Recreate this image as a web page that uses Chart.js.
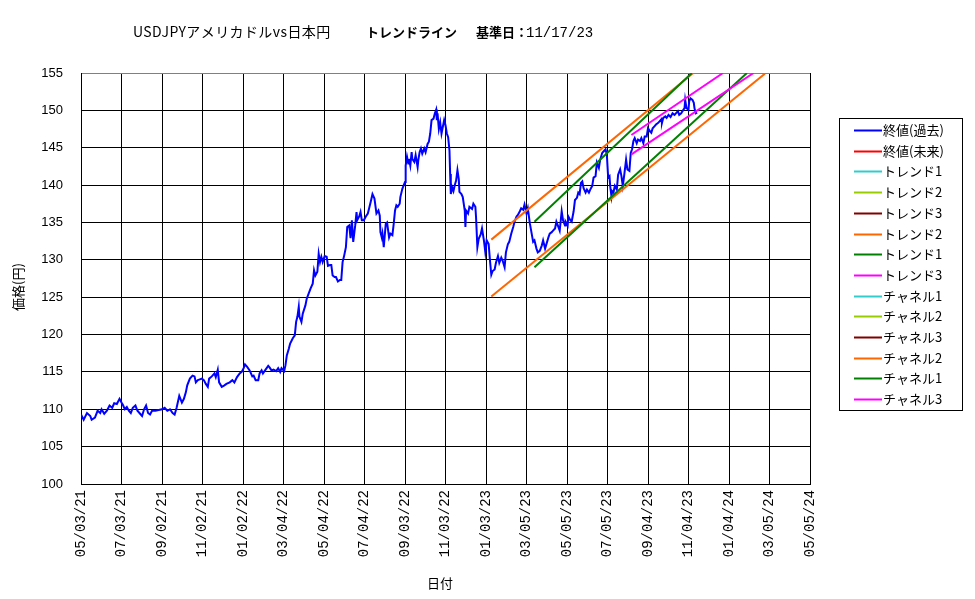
<!DOCTYPE html>
<html>
<head>
<meta charset="utf-8">
<title>USDJPY トレンドライン</title>
<script src="https://cdn.jsdelivr.net/npm/chart.js@4.4.1/dist/chart.umd.min.js"></script>
<style>
  html, body { margin: 0; padding: 0; background: #fff; }
  #wrap { width: 975px; height: 599px; position: relative; }
</style>
</head>
<body>
<div id="wrap"><canvas id="myChart" width="975" height="599"></canvas></div>
<script>

// -- ** datos ** -- \\
// dias desde 05/03/21 y cierre USDJPY
const closeDays = [
  0, 4, 9, 14, 16, 21, 25, 29, 31, 35, 39, 43, 47, 50, 54, 58, 61, 63, 66, 69,
  72, 75, 78, 82, 85, 90, 92, 95, 98, 101, 104, 107, 112, 117, 122, 126, 130, 134, 138, 141,
  144, 148, 152, 155, 158, 160, 164, 168, 171, 173, 176, 179, 182, 185, 188, 191, 193, 197, 201, 203,
  206, 208, 212, 216, 219, 224, 228, 231, 235, 239, 242, 245, 247, 250, 254, 258, 260, 263, 267, 269,
  272, 274, 278, 282, 284, 287, 290, 294, 297, 300, 302, 306, 308, 310, 313, 315, 319, 322, 324, 326,
  328, 329, 332, 334, 338, 340, 343, 346, 349, 351, 353, 356, 358, 360, 362, 364, 367, 370, 372, 375,
  377, 379, 382, 384, 387, 390, 392, 394, 396, 399, 401, 404, 406, 408, 410, 413, 415, 416, 419, 421,
  423, 426, 429, 432, 434, 437, 439, 442, 445, 448, 450, 451, 453, 454, 456, 459, 461, 464, 466, 469,
  471, 473, 475, 477, 480, 481, 484, 487, 488, 489, 491, 493, 494, 496, 498, 499, 502, 504, 507, 508,
  510, 512, 514, 517, 519, 522, 524, 526, 528, 531, 533, 535, 536, 537, 539, 541, 543, 545, 547, 549,
  551, 553, 555, 556, 557, 559, 561, 563, 565, 567, 569, 570, 573, 575, 578, 579, 580, 583, 585, 589,
  591, 594, 595, 597, 599, 602, 604, 607, 609, 611, 614, 616, 618, 620, 623, 625, 628, 630, 633, 635,
  638, 640, 643, 645, 648, 651, 653, 656, 658, 661, 663, 666, 668, 671, 673, 676, 678, 681, 683, 686,
  688, 691, 694, 696, 699, 701, 704, 706, 709, 711, 714, 716, 719, 721, 724, 726, 729, 730, 733, 734,
  737, 739, 742, 744, 747, 749, 751, 753, 755, 757, 760, 762, 765, 767, 770, 772, 775, 777, 780, 782,
  785, 787, 790, 792, 794, 796, 797, 799, 800, 802, 804, 807, 809, 812, 814, 816, 818, 821, 823, 826,
  828, 830, 832, 834, 837, 839, 842, 844, 847, 849, 852, 854, 857, 859, 861, 864, 866, 869, 871, 874,
  875, 877, 880, 882, 885, 888, 891, 894, 896, 899, 901, 904, 906, 909, 910, 912, 915, 916, 918, 921,
  923, 924, 926, 928
];
const closeValues = [
  109.3, 108.6, 109.5, 109.1, 108.6, 108.9, 109.8, 109.5, 110.0, 109.4, 109.8, 110.5, 110.2, 110.8, 110.7, 111.4, 110.9, 110.6, 110.0, 110.3,
  109.8, 109.5, 110.2, 110.5, 109.8, 109.3, 109.1, 110.0, 110.5, 109.5, 109.3, 109.8, 109.8, 109.9, 110.0, 110.2, 109.8, 110.0, 109.5, 109.3,
  110.2, 111.8, 110.9, 111.4, 112.3, 113.2, 114.1, 114.5, 114.4, 113.6, 113.9, 114.0, 114.1, 113.9, 113.4, 113.0, 114.1, 114.4, 114.8, 114.3,
  115.3, 113.6, 113.0, 113.2, 113.4, 113.6, 113.9, 113.6, 114.3, 114.8, 115.0, 115.5, 116.0, 115.7, 115.2, 114.4, 114.5, 113.9, 113.9, 114.8,
  115.2, 114.8, 115.3, 115.8, 115.6, 115.2, 115.3, 115.1, 115.5, 115.0, 115.5, 115.1, 115.9, 117.2, 118.1, 118.8, 119.5, 119.9, 121.7, 122.4,
  123.7, 122.4, 121.7, 122.8, 123.9, 124.8, 125.5, 126.2, 126.8, 128.6, 127.9, 128.4, 130.8, 129.7, 130.4, 129.7, 130.5, 130.4, 129.2, 129.3,
  129.3, 127.9, 127.7, 127.7, 127.1, 127.3, 127.3, 129.7, 130.4, 131.7, 134.4, 134.6, 132.9, 135.3, 132.4, 134.6, 136.4, 135.3, 135.8, 136.4,
  135.3, 135.3, 135.8, 136.2, 136.9, 138.0, 138.8, 138.2, 136.2, 136.6, 135.9, 133.7, 133.0, 133.5, 131.7, 134.8, 135.0, 133.0, 133.5, 133.3,
  134.8, 136.6, 137.3, 137.1, 137.5, 138.4, 139.5, 140.2, 140.4, 142.6, 143.8, 142.9, 143.5, 142.6, 144.4, 143.5, 143.1, 144.0, 142.4, 143.3,
  144.4, 144.9, 144.2, 144.9, 144.4, 145.5, 145.8, 146.9, 148.7, 148.9, 149.6, 150.1, 148.7, 149.6, 147.5, 148.4, 146.9, 147.8, 148.7, 148.0,
  146.9, 146.4, 144.6, 141.5, 138.8, 139.7, 139.2, 140.0, 140.6, 142.0, 140.8, 139.1, 138.8, 138.4, 136.6, 134.4, 136.6, 136.2, 137.1, 136.8,
  137.5, 137.1, 135.7, 131.7, 132.8, 133.4, 134.2, 132.5, 131.0, 132.6, 132.1, 129.9, 128.0, 128.5, 128.7, 129.6, 130.5, 129.6, 130.3, 129.9,
  129.0, 131.0, 132.1, 132.4, 133.5, 134.4, 135.1, 135.8, 136.0, 136.5, 136.9, 136.7, 137.4, 136.2, 136.9, 134.9, 133.9, 132.4, 132.6, 131.5,
  131.0, 131.2, 131.9, 132.6, 131.5, 132.1, 133.0, 133.5, 133.7, 133.9, 134.2, 135.1, 134.4, 133.9, 136.5, 135.3, 134.6, 135.1, 134.6, 135.8,
  135.3, 135.1, 136.5, 138.0, 138.3, 139.0, 138.8, 140.3, 140.5, 139.6, 139.0, 139.4, 139.0, 139.4, 139.9, 141.0, 141.2, 143.0, 142.3, 143.4,
  144.3, 144.5, 144.8, 144.1, 141.0, 141.2, 139.9, 138.5, 139.2, 139.0, 139.9, 139.4, 141.4, 142.1, 141.2, 139.9, 141.2, 143.4, 142.1, 141.9,
  144.3, 144.8, 145.9, 146.3, 145.6, 146.1, 145.9, 146.3, 145.6, 146.5, 146.5, 147.6, 147.2, 147.0, 147.6, 147.9, 148.1, 148.3, 148.5, 148.8,
  148.3, 149.0, 149.2, 149.0, 149.4, 149.1, 149.6, 149.4, 149.6, 149.9, 149.4, 149.6, 149.9, 150.3, 151.4, 150.3, 150.1, 151.2, 151.6, 151.4,
  151.0, 150.3, 149.6, 149.7
];

// lineas de tendencia: [dia inicio, dia fin] y [valor inicio, valor fin]
const trend2Days = [618, 1030];   const trend2Values = [125.1, 154.9];
const channel2Days = [618, 922];  const channel2Values = [132.7, 155.0];
const trend1Days = [683, 1003];   const trend1Values = [129.0, 155.0];
const channel1Days = [683, 920];  const channel1Values = [135.1, 155.0];
const trend3Days = [829, 1013];   const trend3Values = [144.1, 155.0];
const channel3Days = [829, 967];  const channel3Values = [146.7, 155.0];

const seriesNames = ['終値(過去)', '終値(未来)', 'トレンド1', 'トレンド2', 'トレンド3', 'トレンド2', 'トレンド1',
  'トレンド3', 'チャネル1', 'チャネル2', 'チャネル3', 'チャネル2', 'チャネル1', 'チャネル3'];
const seriesColors = ['#0000FF', '#FF0000', '#33CCCC', '#99CC00', '#800000', '#FF6600', '#008000',
  '#FF00FF', '#33CCCC', '#99CC00', '#800000', '#FF6600', '#008000', '#FF00FF'];

const xTickStep = 61;     // dias entre etiquetas
const xMaxDay = 1098;     // 05/05/24
const baseDate = Date.UTC(2021, 4, 3);


// -- ** helpers ** -- \\
function toPoints(days, values) {
  return days.map((d, i) => { return { x: d, y: values[i] } });
}

function dateLabel(day) {
  let date = new Date(baseDate + day * 86400000);
  let mm = String(date.getUTCMonth() + 1).padStart(2, '0');
  let dd = String(date.getUTCDate()).padStart(2, '0');
  let yy = String(date.getUTCFullYear()).slice(2);
  return mm + '/' + dd + '/' + yy;
}

const seriesData = [
  toPoints(closeDays, closeValues), [],
  [], [], [], toPoints(trend2Days, trend2Values), toPoints(trend1Days, trend1Values), toPoints(trend3Days, trend3Values),
  [], [], [], toPoints(channel2Days, channel2Values), toPoints(channel1Days, channel1Values), toPoints(channel3Days, channel3Values)
];


// -- ** textos y leyenda ** -- \\
const decorPlugin = {
  id: 'decor',
  afterDraw(chart) {
    const ctx = chart.ctx;
    ctx.save();
    ctx.fillStyle = '#000';
    ctx.textBaseline = 'middle';
    ctx.textAlign = 'left';

    ctx.font = '14px "Noto Sans CJK JP"';
    ctx.letterSpacing = '0.4px';
    ctx.fillText('USDJPYアメリカドルvs日本円', 133, 32);
    ctx.letterSpacing = '0px';
    ctx.font = 'bold 13px "Noto Sans CJK JP"';
    ctx.fillText('トレンドライン', 366, 32);
    ctx.fillText('基準日：', 476, 32);
    ctx.font = '14px "Liberation Mono"';
    ctx.fillText('11/17/23', 526, 33);

    // ejes
    ctx.font = '13px "Noto Sans CJK JP"';
    ctx.textAlign = 'center';
    ctx.fillText('日付', 440, 583);
    ctx.save();
    ctx.translate(18, 287);
    ctx.rotate(-Math.PI / 2);
    ctx.fillText('価格(円)', 0, 0);
    ctx.restore();

    // leyenda
    ctx.strokeStyle = '#000';
    ctx.lineWidth = 1;
    ctx.strokeRect(839.5, 118.5, 123, 292);
    ctx.textAlign = 'left';
    chart.data.datasets.forEach((ds, i) => {
      let y = Math.round(130 + i * 20.7) + 0.5;
      ctx.strokeStyle = ds.borderColor;
      ctx.lineWidth = 2;
      ctx.beginPath();
      ctx.moveTo(854, y);
      ctx.lineTo(882, y);
      ctx.stroke();
      ctx.fillStyle = '#000';
      ctx.fillText(ds.label, 883, y);
    });
    ctx.restore();
  }
};


// -- ** render Grafica ** -- \\
const config = {
  type: 'line',
  data: {
    datasets: seriesNames.map((name, i) => {
      return {
        label: name,
        data: seriesData[i],
        borderColor: seriesColors[i],
        backgroundColor: seriesColors[i],
        borderWidth: 2,
        pointRadius: 0,
        tension: 0,
        fill: false,
        order: i == 0 ? 20 : 14 - i
      };
    })
  },
  options: {
    responsive: false,
    animation: false,
    events: [],
    layout: { padding: { left: 0, top: 73, right: 165, bottom: 0 } },
    plugins: {
      legend: { display: false },
      title: { display: false },
      tooltip: { enabled: false }
    },
    scales: {
      x: {
        type: 'linear',
        min: 0,
        max: xMaxDay,
        afterFit: (s) => { s.height = 115 },
        afterBuildTicks: (s) => {
          let t = [];
          for (let d = 0; d <= xMaxDay; d += xTickStep) t.push({ value: d });
          s.ticks = t;
        },
        ticks: {
          autoSkip: false,
          maxRotation: 90,
          minRotation: 90,
          padding: 6,
          color: '#000',
          font: { family: 'Liberation Mono', size: 14 },
          callback: (v) => dateLabel(v)
        },
        grid: { color: '#000', lineWidth: 1, drawTicks: false },
        border: { color: '#000', width: 1 }
      },
      y: {
        min: 100,
        max: 155,
        afterFit: (s) => { s.width = 81 },
        ticks: {
          stepSize: 5,
          padding: 18,
          color: '#000',
          font: { family: 'Liberation Sans', size: 13 }
        },
        grid: {
          color: (c) => c.tick && c.tick.value == 155 ? '#808080' : '#000',
          lineWidth: 1,
          drawTicks: false
        },
        border: { color: '#000', width: 1 }
      }
    }
  },
  plugins: [decorPlugin]
};

const myChart = document.getElementById('myChart');
window.myChart = new Chart(myChart, config);
</script>
</body>
</html>
